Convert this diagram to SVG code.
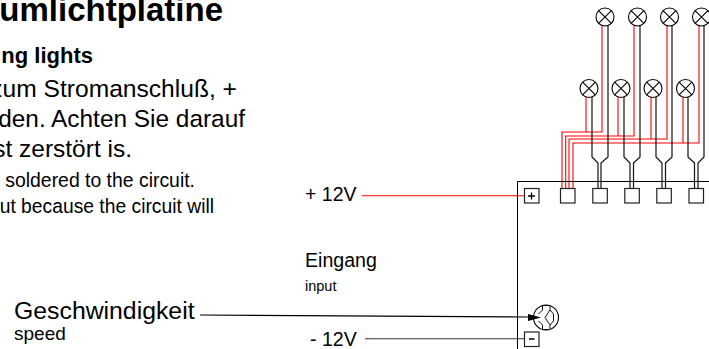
<svg xmlns="http://www.w3.org/2000/svg" width="709" height="349" viewBox="0 0 709 349">
<style>
text{font-family:"Liberation Sans",Arial,sans-serif;fill:#000}
.red{fill:none;stroke:#f00;stroke-width:1.100}
.blk{fill:none;stroke:#111;stroke-width:1.200}
.box{fill:#fff;stroke:#222;stroke-width:1.200}
.lc{fill:#fff;stroke:#000;stroke-width:1.100}
.lx{stroke:#000;stroke-width:1.100;fill:none}
</style>
<defs>
<g id="x"><circle class="lc" r="9"/><path class="lx" d="M-6.400-6.400 6.400 6.400M-6.400 6.400 6.400-6.400"/></g>
</defs>
<g id="texts">
<text x="223" y="21" font-size="33" font-weight="700" text-anchor="end">umlichtplatine</text>
<text x="93" y="63" font-size="22" font-weight="700" text-anchor="end">ng lights</text>
<text x="237" y="96.500" font-size="24.600" text-anchor="end">zum Stromanschluß, +</text>
<text x="245" y="126.500" font-size="24.400" text-anchor="end">den. Achten Sie darauf</text>
<text x="132" y="156.500" font-size="24.500" text-anchor="end">st zerstört is.</text>
<text x="195" y="187" font-size="19.400" text-anchor="end">soldered to the circuit.</text>
<text x="214" y="213" font-size="19.300" text-anchor="end">ut because the circuit will</text>
<text x="305" y="201" font-size="19.500">+ 12V</text>
<text x="305" y="267" font-size="19.600">Eingang</text>
<text x="305" y="290.500" font-size="14.500">input</text>
<text x="14" y="318.500" font-size="24.800">Geschwindigkeit</text>
<text x="14" y="340" font-size="19">speed</text>
<text x="310" y="345.500" font-size="19.600">- 12V</text>
</g>
<g id="connectors">
<path class="red" d="M362 195.700H524"/>
<path d="M365 338.700H524" stroke="#333" stroke-width="1.100" fill="none"/>
<path d="M200 315 528 317" stroke="#000" stroke-width="1.100" fill="none"/>
<path class="red" d="M602 26V132H562V188M634 26V136H565.700V188M667 26V139H569V188M699 26V143H573V188"/>
<path class="red" d="M586 97V132M618 97V136M651 97V139M683 97V143"/>
<path class="blk" d="M592 97V157L598 163V188M608 26V157L601 163V188"/>
<path class="blk" d="M624 97V157L630 163V188M640 26V157L633.500 163V188"/>
<path class="blk" d="M656 97V157L662 163V188M672 26V157L665.500 163V188"/>
<path class="blk" d="M688 97V157L694.500 163V188M704 26V157L698 163V188"/>
</g>
<g id="board"><path d="M517.500 349V181.500H709" fill="none" stroke="#000" stroke-width="1"/></g>
<g id="lamp1"><use href="#x" x="605" y="17"/></g>
<g id="lamp2"><use href="#x" x="637.500" y="17"/></g>
<g id="lamp3"><use href="#x" x="669.500" y="17"/></g>
<g id="lamp4"><use href="#x" x="701.500" y="17"/></g>
<g id="lamp5"><use href="#x" x="589" y="88.500"/></g>
<g id="lamp6"><use href="#x" x="621" y="88.500"/></g>
<g id="lamp7"><use href="#x" x="653" y="88.500"/></g>
<g id="lamp8"><use href="#x" x="685.500" y="88.500"/></g>
<g id="plus"><rect class="box" x="524.500" y="188.500" width="14.500" height="14.500"/><path d="M528 196H535M531.500 192.500V199.500" stroke="#000" stroke-width="1.300"/></g>
<g id="minus"><rect class="box" x="524.500" y="332" width="14.500" height="14.500"/><path d="M529 339H534.500" stroke="#000" stroke-width="1.500"/></g>
<g id="t1"><rect class="box" x="560.500" y="188.500" width="14.500" height="14.500"/></g>
<g id="t2"><rect class="box" x="592.800" y="188.500" width="14.500" height="14.500"/></g>
<g id="t3"><rect class="box" x="624.800" y="188.500" width="14.500" height="14.500"/></g>
<g id="t4"><rect class="box" x="656.800" y="188.500" width="14.500" height="14.500"/></g>
<g id="t5"><rect class="box" x="689" y="188.500" width="14.500" height="14.500"/></g>
<g id="pot"><circle cx="546" cy="317.500" r="12.500" fill="none" stroke="#000" stroke-width="1.100"/><path d="M528 314 541 317.500 528 321Z" fill="#000"/><path d="M542.500 305.500H550V310L553.500 314V321L550 325V329.500H542.500V325L538.500 321M542.500 305.500V310L538.500 314M550 310 545 317.500 550 325" fill="none" stroke="#111"/></g>
</svg>
